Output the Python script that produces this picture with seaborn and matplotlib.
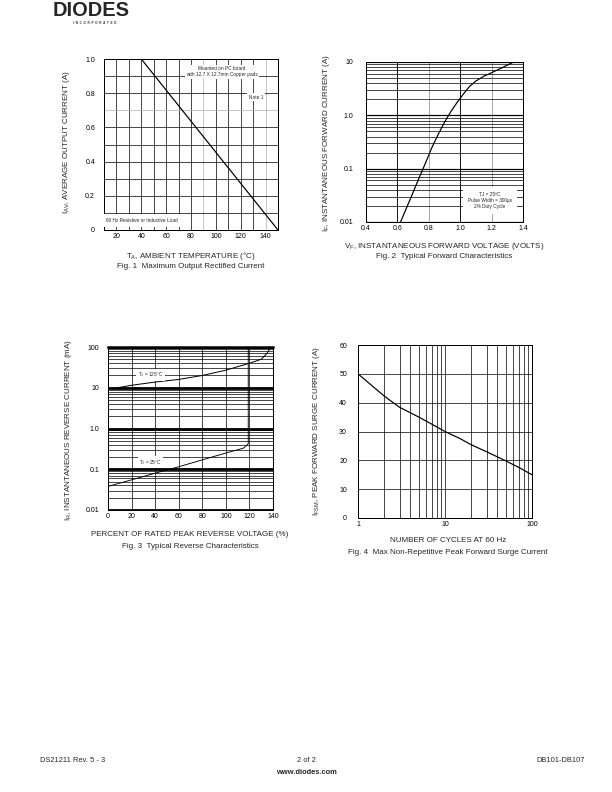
import numpy as np
import matplotlib
matplotlib.use("Agg")
import matplotlib.pyplot as plt
import seaborn as sns

# Fig. 1 - derating curve
temp_c = [10, 40, 150]
avg_current = [1.0, 1.0, 0.0]

# Fig. 2 - typical forward characteristics
fwd_voltage = [0.62, 0.66, 0.70, 0.74, 0.78, 0.82, 0.86, 0.90, 0.94, 0.98,
               1.02, 1.06, 1.10, 1.15, 1.20, 1.27, 1.34]
fwd_current = [0.01, 0.019, 0.036, 0.069, 0.13, 0.25, 0.44, 0.74, 1.17, 1.74,
               2.5, 3.5, 4.4, 5.4, 6.3, 7.9, 10]

# Fig. 3 - typical reverse characteristics
rev_pct_125 = [8, 20, 40, 60, 80, 100, 120, 130, 135, 138]
rev_ma_125 = [10, 11.5, 13.8, 16, 20, 27, 40, 50, 70, 100]
rev_pct_25 = [0, 20, 40, 60, 80, 100, 115, 119, 119]
rev_ma_25 = [0.038, 0.055, 0.08, 0.115, 0.17, 0.25, 0.33, 0.42, 100]

# Fig. 4 - peak forward surge current
cycles = [1, 2, 3, 4, 5, 7, 10, 15, 20, 30, 50, 70, 100]
surge_a = [50, 42.3, 38.4, 36.5, 35, 32.6, 30, 27.5, 25.4, 23, 19.8, 17.6, 15]

sns.set_theme(style="white")
plt.rcParams['font.family'] = ['Liberation Sans', 'DejaVu Sans']
plt.rcParams['mathtext.fontset'] = 'custom'
plt.rcParams['mathtext.rm'] = 'Liberation Sans'
plt.rcParams['mathtext.it'] = 'Liberation Sans:italic'

W, H = 612, 792
fig = plt.figure(figsize=(8.5, 11), dpi=72)
LBL = 8


def box(l, t, r, b):
    # axes rectangle from page pixel edges
    return [l / W, 1 - b / H, (r - l) / W, (b - t) / H]


def ptext(x, y, s, **kw):
    fig.text(x / W, 1 - y / H, s, **kw)


def style_axes(ax, ypad, xpad=3):
    for sp in ax.spines.values():
        sp.set_color('black')
        sp.set_linewidth(1.0)
    ax.tick_params(length=0, labelsize=7, colors='black')
    ax.tick_params(axis='y', pad=ypad)
    ax.tick_params(axis='x', pad=xpad)
    ax.set_xlabel('')
    ax.set_ylabel('')


grid_kw = dict(color='black', linewidth=0.7)
white_box = dict(facecolor='white', edgecolor='none', pad=1.5)

# ---------- Fig. 1 ----------
ax1 = fig.add_axes(box(104, 59, 278, 230))
sns.lineplot(x=temp_c, y=avg_current, ax=ax1, color='black', linewidth=1.2,
             estimator=None, sort=False)
ax1.set_xlim(10, 150)
ax1.set_ylim(0, 1.0)
ax1.set_xticks(range(20, 141, 20))
ax1.set_yticks([0, 0.2, 0.4, 0.6, 0.8, 1.0])
ax1.set_yticklabels(['0', '0.2', '0.4', '0.6', '0.8', '1.0'])
for xv in range(20, 150, 10):
    ax1.axvline(xv, color='#b0b0b0' if xv in (90, 140) else 'black', linewidth=0.7, zorder=0)
for yv in np.arange(0.1, 1.0, 0.1):
    ax1.axhline(yv, color='#b0b0b0' if abs(yv - 0.7) < 1e-6 else 'black', linewidth=0.7, zorder=0)
style_axes(ax1, 9)
ax1.text(105, 0.925, 'Mounted on PC board\nwith 12.7 X 12.7mm Copper pads', fontsize=4.8,
         ha='center', va='center', linespacing=1.3, bbox=white_box, zorder=3)
ax1.text(138, 0.775, 'Note 1', fontsize=4.8, ha='right', va='center', bbox=white_box, zorder=3)
ax1.text(12, 0.053, '60 Hz Resistive or Inductive Load', fontsize=4.8, ha='left', va='center',
         bbox=dict(facecolor='white', edgecolor='none', pad=4), zorder=3)

ptext(67, 142, r'I$_\mathrm{AV}$, AVERAGE OUTPUT CURRENT (A)', fontsize=LBL, rotation=90,
      ha='center', va='center')
ptext(191, 256, r'T$_\mathrm{A}$, AMBIENT TEMPERATURE (°C)', fontsize=LBL, ha='center', va='center')
ptext(191, 267, 'Fig. 1  Maximum Output Rectified Current', fontsize=LBL, ha='center', va='center')

# ---------- Fig. 2 ----------
ax2 = fig.add_axes(box(366, 62, 523, 222))
sns.lineplot(x=fwd_voltage, y=fwd_current, ax=ax2, color='black', linewidth=1.2,
             estimator=None, sort=False)
ax2.set_yscale('log')
ax2.set_xlim(0.4, 1.4)
ax2.set_ylim(0.01, 10)
ax2.set_xticks([0.4, 0.6, 0.8, 1.0, 1.2, 1.4])
ax2.set_xticklabels(['0.4', '0.6', '0.8', '1.0', '1.2', '1.4'])
ax2.set_yticks([0.01, 0.1, 1.0, 10])
ax2.set_yticklabels(['0.01', '0.1', '1.0', '10'])
ax2.yaxis.set_minor_locator(matplotlib.ticker.LogLocator(base=10, subs=np.arange(2, 10)))
ax2.yaxis.set_minor_formatter(matplotlib.ticker.NullFormatter())
ax2.grid(True, which='major', axis='y', color='black', linewidth=1.2)
ax2.grid(True, which='minor', axis='y', **grid_kw)
for xv, c in zip([0.6, 0.8, 1.0, 1.2], ['black', '#a0a0a0', 'black', '#a0a0a0']):
    ax2.axvline(xv, color=c, linewidth=0.9, zorder=0)
ax2.set_axisbelow(True)
style_axes(ax2, 13)
ax2.text(1.19, 0.025, 'TJ = 25ºC\nPulse Width = 300µs\n2% Duty Cycle', fontsize=4.8,
         ha='center', va='center', linespacing=1.3,
         bbox=dict(facecolor='white', edgecolor='none', pad=5), zorder=3)

ptext(326, 143, r'I$_\mathrm{F}$, INSTANTANEOUS FORWARD CURRENT (A)', fontsize=LBL, rotation=90,
      ha='center', va='center')
ptext(444, 246, r'V$_\mathrm{F}$, INSTANTANEOUS FORWARD VOLTAGE (VOLTS)', fontsize=LBL,
      ha='center', va='center')
ptext(444, 257, 'Fig. 2  Typical Forward Characteristics', fontsize=LBL, ha='center', va='center')

# ---------- Fig. 3 ----------
ax3 = fig.add_axes(box(108, 347, 273, 510))
sns.lineplot(x=rev_pct_125, y=rev_ma_125, ax=ax3, color='black', linewidth=1.0,
             estimator=None, sort=False)
sns.lineplot(x=rev_pct_25, y=rev_ma_25, ax=ax3, color='black', linewidth=0.9,
             estimator=None, sort=False)
ax3.set_yscale('log')
ax3.set_xlim(0, 140)
ax3.set_ylim(0.01, 100)
ax3.set_xticks(range(0, 141, 20))
ax3.set_yticks([0.01, 0.1, 1.0, 10, 100])
ax3.set_yticklabels(['0.01', '0.1', '1.0', '10', '100'])
ax3.yaxis.set_minor_locator(matplotlib.ticker.LogLocator(base=10, subs=np.arange(2, 10)))
ax3.yaxis.set_minor_formatter(matplotlib.ticker.NullFormatter())
ax3.grid(True, which='major', axis='y', color='black', linewidth=2.8)
ax3.grid(True, which='minor', axis='y', **grid_kw)
ax3.grid(True, which='major', axis='x', **grid_kw)
ax3.set_axisbelow(True)
style_axes(ax3, 9)
ax3.spines['top'].set_linewidth(2.5)
ax3.text(36, 21, r'T$_\mathrm{J}$ = 125°C', fontsize=4.8, ha='center', va='center',
         bbox=white_box, zorder=3)
ax3.text(36, 0.148, r'T$_\mathrm{J}$ = 25°C', fontsize=4.8, ha='center', va='center',
         bbox=white_box, zorder=3)

ptext(68, 430, r'I$_\mathrm{R}$, INSTANTANEOUS REVERSE CURRENT (mA)', fontsize=LBL, rotation=90,
      ha='center', va='center')
ptext(190, 535, 'PERCENT OF RATED PEAK REVERSE VOLTAGE (%)', fontsize=LBL, ha='center', va='center')
ptext(190, 546, 'Fig. 3  Typical Reverse Characteristics', fontsize=LBL, ha='center', va='center')

# ---------- Fig. 4 ----------
ax4 = fig.add_axes(box(358, 345, 532, 518))
sns.lineplot(x=cycles, y=surge_a, ax=ax4, color='black', linewidth=1.2,
             estimator=None, sort=False)
ax4.set_xscale('log')
ax4.set_xlim(1, 100)
ax4.set_ylim(0, 60)
ax4.set_xticks([1, 10, 100])
ax4.set_xticklabels(['1', '10', '100'])
ax4.xaxis.set_minor_locator(matplotlib.ticker.LogLocator(base=10, subs=np.arange(2, 10)))
ax4.xaxis.set_minor_formatter(matplotlib.ticker.NullFormatter())
ax4.set_yticks(range(0, 61, 10))
ax4.grid(True, which='both', axis='x', **grid_kw)
ax4.grid(True, which='major', axis='y', **grid_kw)
ax4.set_axisbelow(True)
style_axes(ax4, 11)

ptext(316, 431, r'I$_\mathrm{FSM}$, PEAK FORWARD SURGE CURRENT (A)', fontsize=LBL, rotation=90,
      ha='center', va='center')
ptext(448, 541, 'NUMBER OF CYCLES AT 60 Hz', fontsize=LBL, ha='center', va='center')
ptext(448, 553, 'Fig. 4  Max Non-Repetitive Peak Forward Surge Current', fontsize=LBL,
      ha='center', va='center')

# ---------- page header / footer ----------
ptext(53, 16, 'DIODES', fontsize=20, fontweight='heavy', ha='left', va='baseline')
ptext(95, 23.5, 'I  N  C  O  R  P  O  R  A  T  E  D', fontsize=3, fontweight='bold',
      ha='center', va='center')

ptext(40, 760, 'DS21211 Rev. 5 - 3', fontsize=7.5, ha='left', va='center')
ptext(306, 760, '2 of 2', fontsize=7.5, ha='center', va='center')
ptext(585, 760, 'DB101-DB107', fontsize=7.5, ha='right', va='center')
ptext(306, 773, 'www.diodes.com', fontsize=7.5, fontweight='bold', ha='center', va='center')

fig.savefig('out.png', dpi=72)
